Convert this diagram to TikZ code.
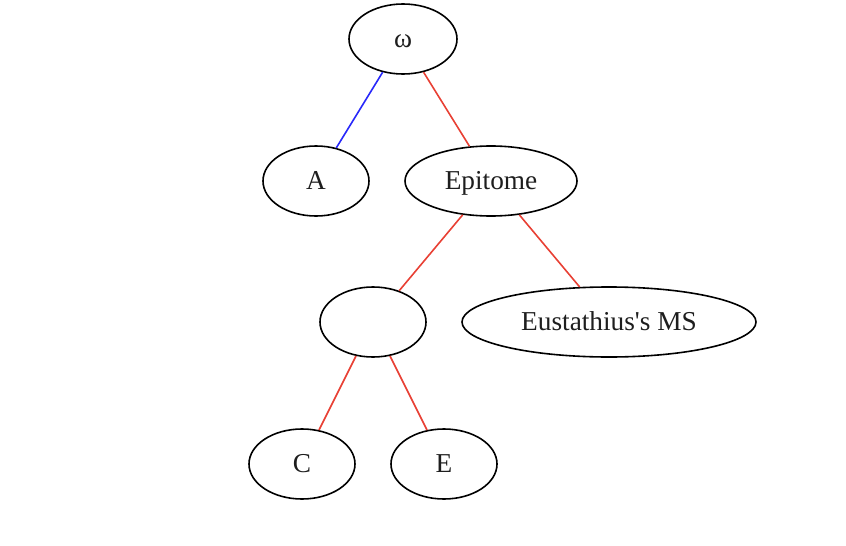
\documentclass[tikz,border=0pt]{standalone}
\usepackage{fontspec}
\newfontfamily\nf{Liberation Serif}
\usetikzlibrary{shapes.geometric}
\definecolor{edgered}{RGB}{232,64,52}
\definecolor{edgeblue}{RGB}{40,40,250}
\definecolor{txt}{RGB}{30,30,30}
\begin{document}
\begin{tikzpicture}[x=1pt,y=-1pt,
  nd/.style={draw=black,line width=1.6pt,ellipse,inner sep=0pt,minimum height=70pt,
    text=txt,font=\nf\fontsize{27.3}{31}\selectfont,text height=20pt,text depth=3pt},
  redge/.style={draw=edgered,line width=1.6pt},
  bedge/.style={draw=edgeblue,line width=1.6pt}]
\useasboundingbox (0,0) rectangle (846,546);
\node[nd,minimum width=108pt] (w) at (403,39) {ω};
\node[nd,minimum width=106pt] (a) at (316,181) {A};
\node[nd,minimum width=172pt] (ep) at (491,181) {Epitome};
\node[nd,minimum width=106pt] (bl) at (373,322) {};
\node[nd,minimum width=294pt] (eu) at (609,322) {Eustathius's MS};
\node[nd,minimum width=106pt] (c) at (302,464) {C};
\node[nd,minimum width=106pt] (e) at (444,464) {E};
\draw[bedge] (w) -- (a);
\draw[redge] (w) -- (ep);
\draw[redge] (ep) -- (bl);
\draw[redge] (ep) -- (eu);
\draw[redge] (bl) -- (c);
\draw[redge] (bl) -- (e);
\end{tikzpicture}
\end{document}
